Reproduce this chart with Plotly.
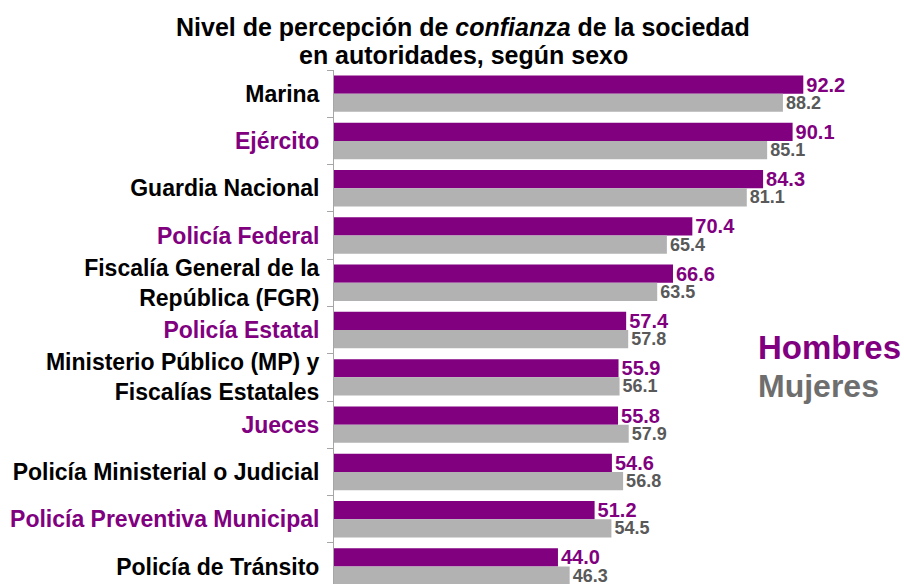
import plotly.graph_objects as go

categories = [
    "Marina",
    "Ejército",
    "Guardia Nacional",
    "Policía Federal",
    "Fiscalía General de la<br>República (FGR)",
    "Policía Estatal",
    "Ministerio Público (MP) y<br>Fiscalías Estatales",
    "Jueces",
    "Policía Ministerial o Judicial",
    "Policía Preventiva Municipal",
    "Policía de Tránsito",
]
hombres = [92.2, 90.1, 84.3, 70.4, 66.6, 57.4, 55.9, 55.8, 54.6, 51.2, 44.0]
mujeres = [88.2, 85.1, 81.1, 65.4, 63.5, 57.8, 56.1, 57.9, 56.8, 54.5, 46.3]
title_lines = [
    "Nivel de percepción de <i>confianza</i> de la sociedad",
    "en autoridades, según sexo",
]

PURPLE = "#800080"
GRAY_BAR = "#B2B2B2"
GRAY_TXT = "#595959"
LABEL_COLORS = ["#000000", PURPLE]
FONT = "Liberation Sans, Arial, sans-serif"
NARROW = "Liberation Sans Narrow, Liberation Sans, Arial, sans-serif"

ticktext = [
    f'<span style="color:{LABEL_COLORS[i % 2]}">{c}</span>'
    for i, c in enumerate(categories)
]

fig = go.Figure()
fig.add_trace(go.Bar(
    y=categories, x=hombres, orientation="h", name="Hombres",
    marker=dict(color=PURPLE, line=dict(width=0)),
    text=[f"{v:.1f}" for v in hombres], textposition="outside",
    textfont=dict(family=FONT, size=20, color=PURPLE, weight="bold"),
    constraintext="none", cliponaxis=False,
))
fig.add_trace(go.Bar(
    y=categories, x=mujeres, orientation="h", name="Mujeres",
    marker=dict(color=GRAY_BAR, line=dict(width=0)),
    text=[f"{v:.1f}" for v in mujeres], textposition="outside",
    textfont=dict(family=FONT, size=18, color=GRAY_TXT, weight="bold"),
    constraintext="none", cliponaxis=False,
))

fig.update_layout(
    width=904, height=584,
    margin=dict(l=334, r=4, t=70, b=0, autoexpand=False),
    paper_bgcolor="white", plot_bgcolor="white",
    barmode="group", bargap=0.23, bargroupgap=0.0,
    showlegend=False,
    font=dict(family=FONT),
)
fig.update_xaxes(range=[0, 111.2], visible=False, showgrid=False, zeroline=False)
fig.update_yaxes(
    range=[10.37, -0.5], automargin=False,
    tickmode="array", tickvals=categories, ticktext=ticktext,
    tickson="boundaries", ticks="outside", ticklen=6, tickcolor="#A6A6A6",
    ticklabelstandoff=9,
    showline=True, linecolor="#A6A6A6", linewidth=1,
    showgrid=False, zeroline=False,
    tickfont=dict(family=FONT, size=23, color="black", weight="bold"),
)

for line, ypos in zip(title_lines, [1.0837, 1.0292]):
    fig.add_annotation(
        text=f"<b>{line}</b>",
        xref="paper", yref="paper", x=0.228, y=ypos,
        xanchor="center", yanchor="middle", showarrow=False,
        font=dict(family=NARROW, size=25, color="black"),
    )
fig.add_annotation(
    text="<b>Hombres</b>", xref="paper", yref="paper", x=0.745, y=0.46,
    xanchor="left", yanchor="middle", showarrow=False,
    font=dict(family=FONT, size=33, color=PURPLE),
)
fig.add_annotation(
    text="<b>Mujeres</b>", xref="paper", yref="paper", x=0.745, y=0.386,
    xanchor="left", yanchor="middle", showarrow=False,
    font=dict(family=FONT, size=32, color="#6E6E6E"),
)

fig.write_html(
    "out.html",
    config={"displayModeBar": False},
    post_script="document.body.style.margin='0';",
)
